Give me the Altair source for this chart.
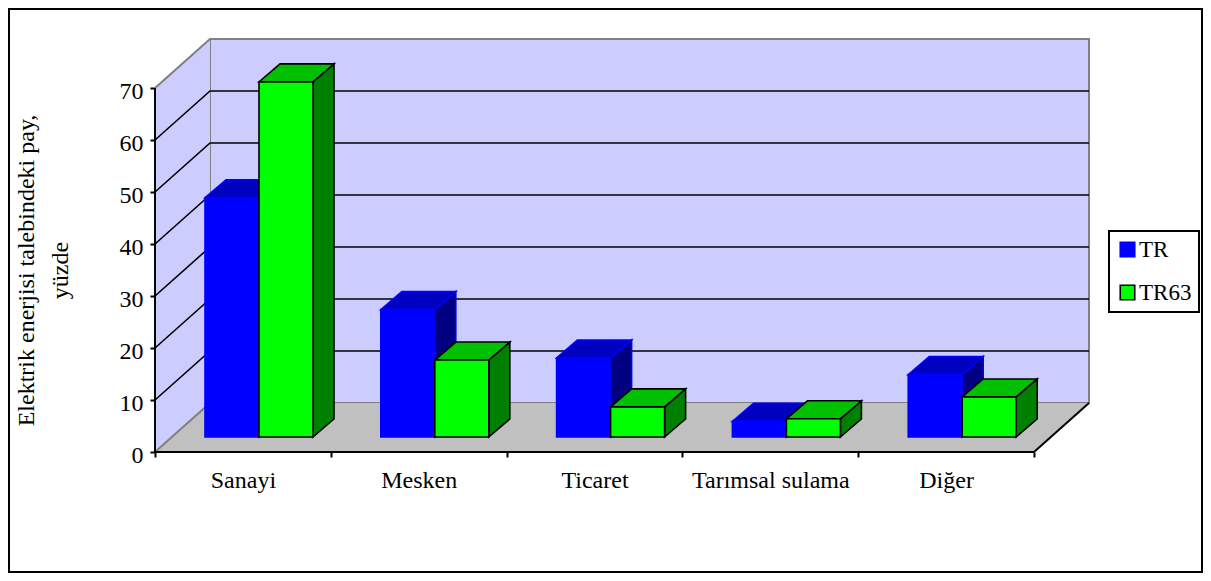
import altair as alt
import pandas as pd

categories = ["Sanayi", "Mesken", "Ticaret", "Tarımsal sulama", "Diğer"]
tr = [46.0, 24.5, 15.2, 3.0, 12.0]
tr63 = [68.3, 14.8, 5.8, 3.5, 7.7]
y_ticks = [0, 10, 20, 30, 40, 50, 60, 70]
series_names = ["TR", "TR63"]

PX_X = 175.8   # pixels per category
PX_Y = 5.2     # pixels per percent
W, H = 1193, 563
X0_PX, Y0_PX = 146, 443  # position of the data origin inside the frame
xscale = alt.Scale(domain=[-X0_PX / PX_X, (W - X0_PX) / PX_X], nice=False, zero=False)
yscale = alt.Scale(domain=[-(H - Y0_PX) / PX_Y, Y0_PX / PX_Y], nice=False, zero=False)

N = len(categories)
TOP = max(y_ticks)
DX, DY = 55 / PX_X, 49 / PX_Y            # wall depth
BDX, BDY = 21 / PX_X, 18 / PX_Y          # bar depth
BASE = 15 / PX_Y                         # bar base above the axis plane
BAR_W = 54 / PX_X
GAP = 50 / PX_X
LINE = "#808080"
FONT = "Liberation Serif"
FS = 24

x_axis = alt.Axis(
    values=list(range(N + 1)),
    labelExpr="[" + ",".join(f"'{c}'" for c in categories) + "][datum.value] || ''",
    labelOffset=PX_X / 2, offset=-(H - Y0_PX), domain=False, grid=False,
    tickSize=5, tickWidth=2, tickColor="black", labelFont=FONT, labelFontSize=FS,
    labelColor="black", labelPadding=11, labelOverlap=False, labelBound=False,
    labelFlush=False, labelAngle=0, labelBaseline="top",
)
y_axis = alt.Axis(
    values=y_ticks, offset=-X0_PX, domain=False, grid=False, tickSize=5, tickWidth=2,
    tickColor="black", labelFont=FONT, labelFontSize=FS, labelColor="black",
    labelPadding=7, labelOffset=3, labelBound=False, labelFlush=False,
    titleFont=FONT, titleFontSize=FS, titleFontWeight="normal", titleColor="black",
    titleLineHeight=34, titleX=-117, titleY=261, titleAlign="center",
)
Y_TITLE = ["Elektrik enerjisi talebindeki pay,", "yüzde"]


def X():
    return alt.X("x:Q", scale=xscale, axis=x_axis, title=None)


def Y():
    return alt.Y("y:Q", scale=yscale, axis=y_axis, title=Y_TITLE)


layers = []

# back wall
back = pd.DataFrame([dict(x=DX, x2=N + DX, y=DY, y2=TOP + DY)])
layers.append(alt.Chart(back).mark_rect(fill="#CCCCFF", stroke=LINE, strokeWidth=2).encode(
    x=X(), x2="x2:Q", y=Y(), y2="y2:Q"))

# left wall
left = pd.DataFrame([dict(x=0, y=0, y2=TOP), dict(x=DX, y=DY, y2=TOP + DY)])
layers.append(alt.Chart(left).mark_area(fill="#CCCCFF", opacity=1).encode(x=X(), y=Y(), y2="y2:Q"))

# floor
floor = pd.DataFrame([dict(y=0, x=0, x2=N), dict(y=DY, x=DX, x2=N + DX)])
layers.append(alt.Chart(floor).mark_area(fill="#C0C0C0", opacity=1, orient="horizontal").encode(
    y=Y(), x=X(), x2="x2:Q"))

# grid lines: along the left wall, then along the back wall
grid_rows = []
for t in y_ticks[1:-1]:
    grid_rows += [dict(t=t, i=0, x=0, y=t), dict(t=t, i=1, x=DX, y=t + DY), dict(t=t, i=2, x=N + DX, y=t + DY)]
layers.append(alt.Chart(pd.DataFrame(grid_rows)).mark_line(color="black", strokeWidth=1.6).encode(
    x=X(), y=Y(), detail="t:N", order="i:Q"))

# grey edges
edge_rows = [dict(k=0, i=0, x=0, y=TOP), dict(k=0, i=1, x=DX, y=TOP + DY),
             dict(k=1, i=0, x=0, y=0), dict(k=1, i=1, x=DX, y=DY)]
layers.append(alt.Chart(pd.DataFrame(edge_rows)).mark_line(color=LINE, strokeWidth=2).encode(
    x=X(), y=Y(), detail="k:N", order="i:Q"))

# black axis lines and right floor edge
axis_rows = [dict(k=0, i=0, x=0, y=0), dict(k=0, i=1, x=0, y=TOP),
             dict(k=1, i=0, x=0, y=0), dict(k=1, i=1, x=N, y=0),
             dict(k=2, i=0, x=N, y=0), dict(k=2, i=1, x=N + DX, y=DY)]
layers.append(alt.Chart(pd.DataFrame(axis_rows)).mark_line(color="black", strokeWidth=2).encode(
    x=X(), y=Y(), detail="k:N", order="i:Q"))


def bar_layers(values, s, name, top_fill, side_fill, stroke):
    side, top, front = [], [], []
    for i, v in enumerate(values):
        l = i + GAP + s * BAR_W
        r = l + BAR_W
        t = BASE + v
        side += [dict(b=i, x=r, y=BASE, y2=t), dict(b=i, x=r + BDX, y=BASE + BDY, y2=t + BDY)]
        top += [dict(b=i, y=t, x=l, x2=r), dict(b=i, y=t + BDY, x=l + BDX, x2=r + BDX)]
        front.append(dict(series=name, x=l, x2=r, y=BASE, y2=t))
    legend = alt.Legend(
        orient="none", legendX=1100, legendY=222, title=None, symbolType="square",
        symbolSize=210, symbolStrokeWidth=1.6, labelFont=FONT, labelFontSize=23,
        labelColor="black", labelOffset=0, rowPadding=19, padding=7,
        strokeColor="black", fillColor="white", symbolOpacity=1,
    )
    return [
        alt.Chart(pd.DataFrame(side)).mark_area(fill=side_fill, stroke=stroke, strokeWidth=1.6, opacity=1).encode(
            x=X(), y=Y(), y2="y2:Q", detail="b:N"),
        alt.Chart(pd.DataFrame(top)).mark_area(fill=top_fill, stroke=stroke, strokeWidth=1.6, opacity=1, orient="horizontal").encode(
            y=Y(), x=X(), x2="x2:Q", detail="b:N"),
        alt.Chart(pd.DataFrame(front)).mark_rect(strokeWidth=1.6, opacity=1).encode(
            x=X(), x2="x2:Q", y=Y(), y2="y2:Q",
            fill=alt.Fill("series:N", scale=alt.Scale(domain=series_names, range=["#0000FF", "#00FF00"]), legend=legend),
            stroke=alt.Stroke("series:N", scale=alt.Scale(domain=series_names, range=["#0000FF", "#000000"]), legend=legend),
        ),
    ]


layers += bar_layers(tr, 0, "TR", "#0000C0", "#000080", "#0000FF")
layers += bar_layers(tr63, 1, "TR63", "#00C000", "#008000", "#000000")

chart = (
    alt.layer(*layers)
    .properties(width=W, height=H, autosize=alt.AutoSizeParams(type="none"),
                padding={"left": 1, "top": 1, "right": 1, "bottom": 1}, background="white")
    .configure(font=FONT, view=alt.ViewConfig(stroke="black", strokeWidth=2, fill="white"),
               legend=alt.LegendConfig(strokeWidth=2))
)
chart.save("out.html", embed_options={"renderer": "svg", "actions": False})
